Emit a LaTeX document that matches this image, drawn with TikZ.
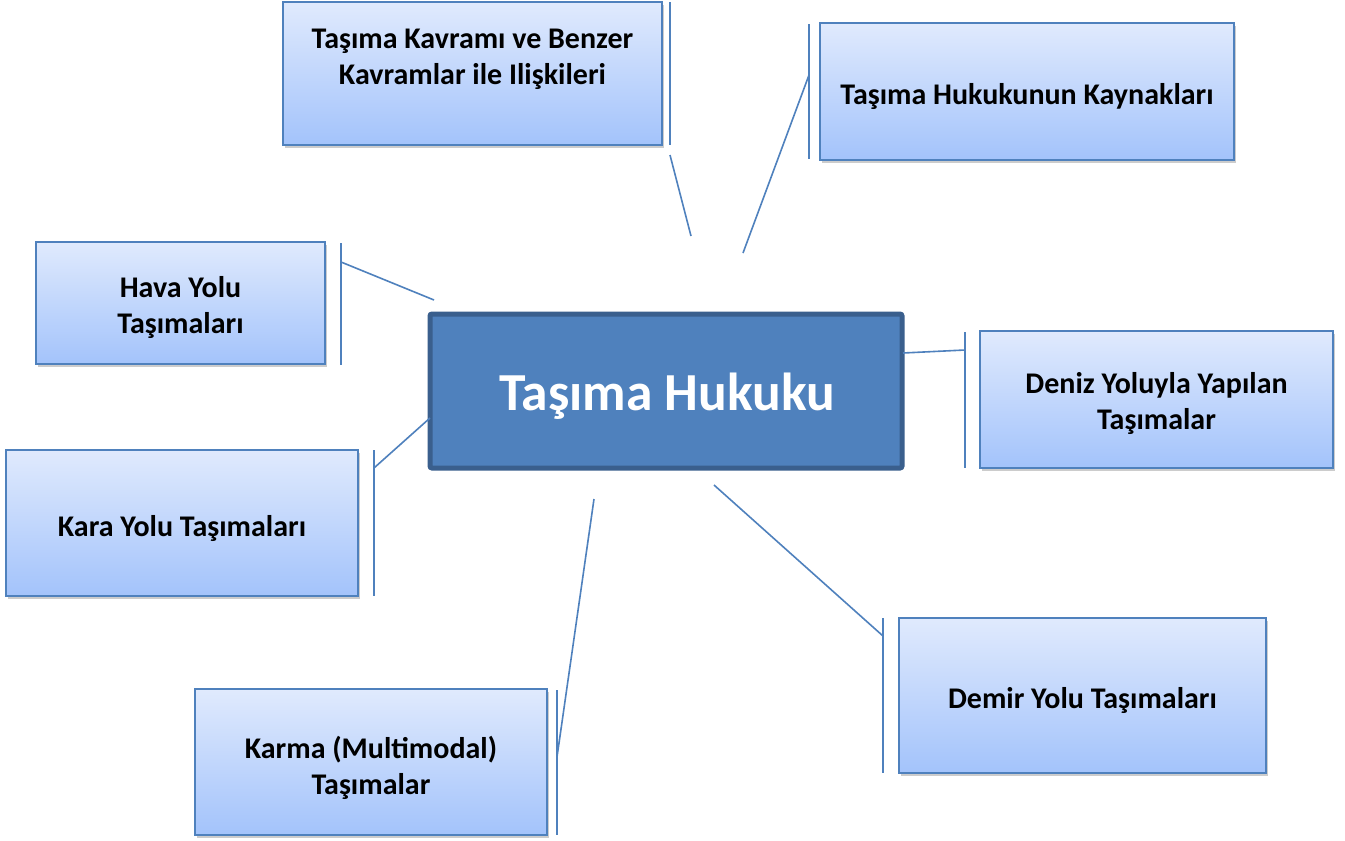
\documentclass[tikz,border=0pt]{standalone}
\usepackage{fontspec}
\setmainfont{Carlito}
\usetikzlibrary{shadows}
\definecolor{accent}{HTML}{4F81BD}
\definecolor{accentdark}{HTML}{3A5F8D}
\definecolor{gradtop}{HTML}{E0EAFD}
\definecolor{gradbot}{HTML}{A3C3FB}
\tikzset{
  topic/.style={draw=accent, line width=1.6pt, top color=gradtop, bottom color=gradbot,
    drop shadow={shadow xshift=2pt, shadow yshift=-3pt, fill=black, opacity=.2},
    inner sep=0pt},
  topictext/.style={font=\fontsize{30}{36}\selectfont\bfseries, align=center, text=black},
  accentbar/.style={draw=accent, line width=1.6pt},
  leader/.style={draw=accent, line width=1.6pt},
  core/.style={draw=accentdark, line width=5pt, fill=accent, rounded corners=2pt, inner sep=0pt},
  coretext/.style={font=\fontsize{53.5}{60}\selectfont\bfseries, text=white}
}
\begin{document}
\begin{tikzpicture}[x=1pt, y=-1pt]
  % page area
  \fill[white] (0,0) rectangle (1345,841);

  % central topic
  \node[core, minimum width=472pt, minimum height=154pt] (core) at (666,391) {};
  \node[coretext] (coretxt) at (667,396) {Taşıma Hukuku};

  % subtopic boxes
  \node[topic, minimum width=379pt, minimum height=143pt] (kav)   at (472.5,73.5) {};
  \node[topic, minimum width=414pt, minimum height=137pt] (kay)   at (1027,91.5) {};
  \node[topic, minimum width=289pt, minimum height=122pt] (hava)  at (180.5,303) {};
  \node[topic, minimum width=352pt, minimum height=146pt] (kara)  at (182,523) {};
  \node[topic, minimum width=352pt, minimum height=146pt] (karma) at (371,762) {};
  \node[topic, minimum width=353pt, minimum height=137pt] (deniz) at (1156.5,399.5) {};
  \node[topic, minimum width=367pt, minimum height=155pt] (demir) at (1082.5,695.5) {};

  % subtopic labels
  \node[topictext] (kavtxt)   at (472.5,59)    {Taşıma Kavramı ve Benzer\\Kavramlar ile Ilişkileri};
  \node[topictext] (kaytxt)   at (1027,96)     {Taşıma Hukukunun Kaynakları};
  \node[topictext] (havatxt)  at (180.5,307.5) {Hava Yolu\\Taşımaları};
  \node[topictext] (karatxt)  at (182,528)     {Kara Yolu Taşımaları};
  \node[topictext] (karmatxt) at (371,767.5)   {Karma (Multimodal)\\Taşımalar};
  \node[topictext] (deniztxt) at (1156.5,403.5){Deniz Yoluyla Yapılan\\Taşımalar};
  \node[topictext] (demirtxt) at (1082.5,700)  {Demir Yolu Taşımaları};

  % accent bars beside the boxes
  \coordinate (kavT) at (670,2);    \coordinate (kavB) at (670,145);
  \coordinate (kayT) at (809,24);   \coordinate (kayB) at (809,159);
  \coordinate (havaT) at (341,243); \coordinate (havaB) at (341,365);
  \coordinate (karaT) at (374,450); \coordinate (karaB) at (374,596);
  \coordinate (karmaT) at (557,690);\coordinate (karmaB) at (557,835);
  \coordinate (denizT) at (965,332);\coordinate (denizB) at (965,468);
  \coordinate (demirT) at (883,618);\coordinate (demirB) at (883,773);
  \foreach \b in {kav,kay,hava,kara,karma,deniz,demir}
    \draw[accentbar] (\b T) -- (\b B);

  % callout leaders toward the central topic
  \coordinate (kavA) at (670,155);   \coordinate (kavZ) at (691,236);
  \coordinate (kayA) at (809,75);    \coordinate (kayZ) at (743,253);
  \coordinate (havaA) at (341,262);  \coordinate (havaZ) at (434,300);
  \coordinate (karaA) at (374,468);  \coordinate (karaZ) at (430,418);
  \coordinate (karmaA) at (557,757); \coordinate (karmaZ) at (594,499);
  \coordinate (denizA) at (965,350); \coordinate (denizZ) at (903,353);
  \coordinate (demirA) at (883,636); \coordinate (demirZ) at (714,485);
  \foreach \b in {kav,kay,hava,kara,karma,deniz,demir}
    \draw[leader] (\b A) -- (\b Z);
\end{tikzpicture}
\end{document}
